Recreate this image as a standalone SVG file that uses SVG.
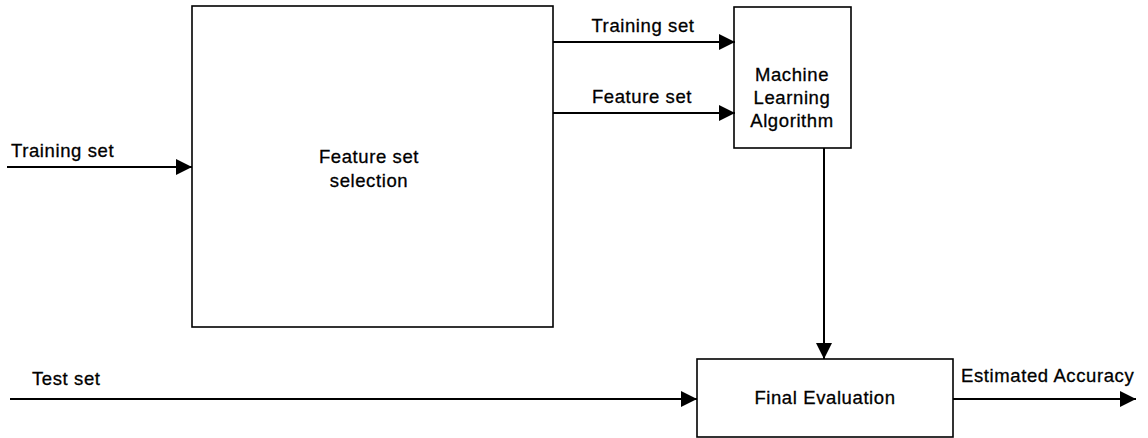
<svg xmlns="http://www.w3.org/2000/svg" width="1148" height="438" viewBox="0 0 1148 438">
  <style>
    .box { fill: #fff; stroke: #000; stroke-width: 1.6; }
    .wire { fill: none; stroke: #000; stroke-width: 2; }
    text { font-family: "Liberation Sans", Arial, sans-serif; font-size: 18.5px; fill: #000; stroke: #000; stroke-width: 0.3; letter-spacing: 0.6px; }
    .c { text-anchor: middle; }
  </style>
  <defs>
    <marker id="arrow" markerWidth="16" markerHeight="16" refX="16" refY="8" orient="auto" markerUnits="userSpaceOnUse">
      <path d="M0,0 L16,8 L0,16 Z" fill="#000"/>
    </marker>
  </defs>
  <rect width="1148" height="438" fill="#fff"/>

  <g id="feature-selection">
    <rect class="box" x="192" y="6" width="361" height="321"/>
    <text class="c" x="369" y="163">Feature set</text>
    <text class="c" x="369" y="187">selection</text>
  </g>

  <g id="ml-algorithm">
    <rect class="box" x="734" y="7" width="117" height="141"/>
    <text class="c" x="792" y="81">Machine</text>
    <text class="c" x="792" y="104">Learning</text>
    <text class="c" x="792" y="127">Algorithm</text>
  </g>

  <g id="final-evaluation">
    <rect class="box" x="697" y="359" width="256" height="78"/>
    <text class="c" x="825" y="404">Final Evaluation</text>
  </g>

  <g id="connectors">
    <line class="wire" x1="7" y1="167" x2="192" y2="167" marker-end="url(#arrow)"/>
    <line class="wire" x1="553" y1="42" x2="735" y2="42" marker-end="url(#arrow)"/>
    <line class="wire" x1="553" y1="113" x2="735" y2="113" marker-end="url(#arrow)"/>
    <line class="wire" x1="824" y1="148" x2="824" y2="359" marker-end="url(#arrow)"/>
    <line class="wire" x1="10" y1="399" x2="697" y2="399" marker-end="url(#arrow)"/>
    <line class="wire" x1="953" y1="399" x2="1136" y2="399" marker-end="url(#arrow)"/>
  </g>

  <g id="labels">
    <text x="11" y="157">Training set</text>
    <text class="c" x="643" y="32">Training set</text>
    <text class="c" x="642" y="103">Feature set</text>
    <text x="32" y="385">Test set</text>
    <text x="961" y="382">Estimated Accuracy</text>
  </g>
</svg>
